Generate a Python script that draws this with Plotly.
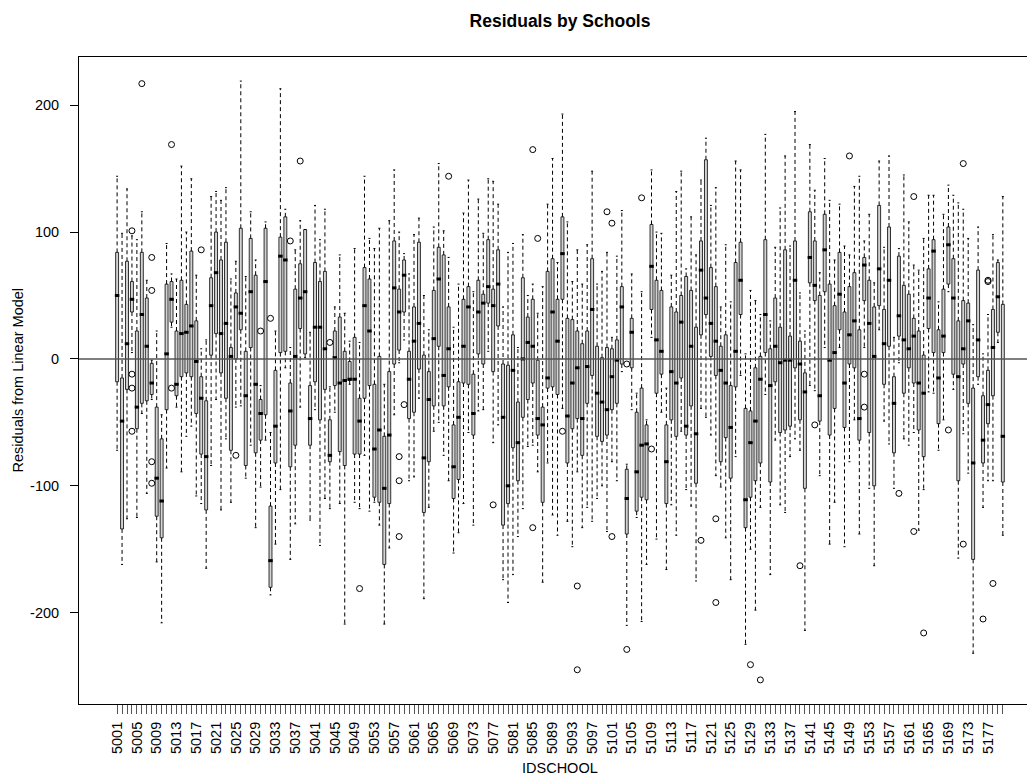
import plotly.graph_objects as go

# ---- data ----
FIRST_ID = 5001
SCHOOL_IDS = list(range(5001, 5181))

# upper whisker end, Q3, median, Q1, lower whisker end  (per school, in order)
WHISK_HI = [144, 99, 134, 97, 94, 116, 62, -1, 22, -44, 91, 67, 63, 152, 100, 142, 66, 8, 15, 128,
            132, 125, 135, 63, 77, 219, 65, 116, 78, -21, 108, -58, 22, 213, 118, 9, 86, 109, 102, 21,
            121, 94, 118, -22, 41, 82, 36, 14, 87, 13, 144, 95, 87, 103, -20, 109, 149, 100, 83, 67,
            98, 111, 50, 23, 104, 154, 101, 80, 25, 59, 115, 141, 53, 126, 99, 142, 140, 122, 41, 84,
            91, 9, 98, 50, 59, 36, 57, 122, 158, 76, 193, 108, 61, 86, 59, 90, 148, 59, 69, 84,
            17, 81, 117, -83, 67, -27, 53, -48, 149, 100, 99, -23, 66, 132, 148, 71, 112, 82, 141, 174,
            121, 135, 41, 90, 45, 156, 149, 4, 54, 46, 35, 177, 30, 88, 119, 160, 89, 195, 52, 22,
            169, 133, 68, 158, 125, 78, 122, 89, 82, 136, 144, 93, 114, 60, 156, 88, 160, 17, 87, 145,
            108, 74, 70, 95, 129, 129, 45, 114, 137, 129, 123, 118, 95, 27, 104, 4, 35, 98, 78, 128]
Q3 = [84, -15, 77, 61, 22, 84, 48, -3.5, -38, -63, 59, 61, 22, 62, 43, 85, 30, -14, -33, 64,
      100, 78, 92, 9, 52, 103, 6, 95, 66, -32, 103, -116, -9, 96, 112, -19, 55, 75, 102, -21,
      76, 61, 69, -48, 22, 33, 6, -2, 17, -31, 72, 63, -20, 2, -61, -10, 93, 55, 78, 6,
      41, 92, 3, -10, 54, 88, 82, 41, -52, -18, 47, 57, -12, 62, 51, 94, 55, 86, -4, -5,
      19, -34, 64, 33, 47, -1, -38, 69, 79, 47, 112, 32, 31, 22, 12, 22, 79, 10, 1, 9,
      8, 15, 57, -87, 32, -42, -23, -52, 106, 62, 54, -52, 41, 37, 50, 65, 54, 25, 93, 157,
      72, 57, 10, 19, -21, 76, 92, -39, -41, -7, 2, 94, 8, 48, 25, 86, 18, 93, 14, -11,
      116, 93, 50, 114, 59, 42, 84, 37, 57, 68, 23, 80, 62, 41, 121, 39, 104, -14, 81, 58,
      51, 32, 22, 3, 71, 94, 23, 55, 104, 79, 30, 46, 44, -23, 70, -29, -9, 39, 76, 43]
MEDIAN = [50, -49, 12, 47, -38, 35, 10, -19, -94, -112, 4, 47, -20, 20, 21, 26, -2, -31, -77, 42,
          68, 20, 28, 2, 41, 36, -29, 53, -20, -43, 61, -159, -53, 81, 78, -41, 2, 48, 53, -47,
          25, 25, 8, -76, 1, -19, -17, -16, -16, -49, 42, 22, -71, -56, -102, -60, 56, 37, 66, -16,
          14, 28, -78, -32, 16, 63, -13, 8, -85, -46, 10, 41, -43, 37, 44, 57, 42, 59, -46, -100,
          -9, -66, 0, 13, 10, -47, -52, -15, 37, 14, 83, -45, -19, -7, -47, -6, 39, -27, -34, -40,
          -14, -1, 41, -110, 21, -89, -68, -67, 73, 15, 6, -81, -10, -19, 29, -53, 10, -59, 70, 48,
          28, 14, -9, -19, -54, 6, 62, -111, -66, -49, -16, 35, -21, 10, -3, -1, -1, 62, -4, -26,
          80, 58, -29, 86, -1, 5, 51, -19, 19, 30, -47, 74, 28, 2, 71, 12, 62, -35, 34, 15,
          8, 18, -19, -27, 48, 85, -15, 18, 90, 48, -14, 8, 30, -82, 15, -64, -36, 9, 49, -61]
Q1 = [-18, -134, -24, 37, -55, -35, -33, -28, -124, -141, -40, 29, -29, -14, -11, -14, -43, -75, -119, 3,
      20, -11, -31, -72, 0, 23, -84, 9, -74, -64, -44, -180, -82, 5, 6, -85, -68, 24, 4, -68,
      -18, -48, -24, -81, -21, -73, -84, -17, -75, -75, -31, -21, -109, -113, -162, -114, -4, 7, 37, -47,
      -42, -8, -121, -81, -37, 10, -37, -22, -110, -95, -19, -20, -60, 4, -4, 44, -10, 26, -131, -114,
      -70, -96, -46, -32, -19, -60, -113, -23, -22, -28, 47, -82, -55, -47, -76, -35, -13, -61, -65, -60,
      -40, -35, -4, -138, -7, -120, -109, -111, 39, -27, -12, -114, -48, -61, -15, -60, -37, -98, 19, 35,
      2, -13, -81, -62, -94, -22, 35, -133, -109, -96, -82, 5, -97, -18, -58, -56, -53, -7, -48, -102,
      60, 46, -49, 53, -60, -39, 23, -54, -4, -7, -64, 46, -58, -100, 42, -20, 10, -74, 18, -27,
      -7, -19, -56, -77, 24, 5, -51, 5, 59, -12, -96, -4, -35, -158, -14, -82, -51, -29, 21, -97]
WHISK_LO = [-72, -162, -126, 5, -125, -43, -106, -32, -160, -208, -86, 25, -38, -89, -61, -53, -108, -114, -165, -84,
            -32, -119, -63, -113, -38, -37, -94, -68, -133, -101, -64, -186, -146, -103, -7, -158, -130, -38, 1, -127,
            -40, -147, -110, -118, -42, -114, -209, -20, -113, -118, -76, -120, -113, -131, -209, -149, -44, -3, 15, -96,
            -93, -31, -189, -117, -57, -50, -76, -96, -153, -137, -114, -58, -131, -41, -40, 6, -66, -52, -174, -192,
            -170, -140, -118, -69, -68, -89, -176, -82, -123, -139, -39, -128, -148, -89, -133, -117, -128, -110, -100, -136,
            -81, -96, -10, -210, -40, -125, -207, -162, 17, -142, -42, -166, -115, -139, -57, -103, -116, -175, -39, -46,
            -60, -92, -101, -141, -174, -77, -13, -225, -150, -198, -117, -28, -170, -64, -115, -121, -77, -63, -72, -214,
            -21, -25, -92, 9, -146, -113, 9, -148, -81, -48, -138, 9, -102, -163, 23, -49, -67, -102, -3, -63,
            -68, -58, -135, -103, -26, -27, -72, -48, 53, -24, -157, -59, -90, -232, -20, -117, -96, -96, 13, -139]

# outlying residuals (school id, value)
OUTLIER_IDS = [5004, 5004, 5004, 5004, 5006, 5008, 5008, 5008, 5008, 5012, 5012, 5018, 5025, 5030, 5032,
               5036, 5038, 5044, 5050, 5058, 5058, 5058, 5059, 5068, 5077, 5085, 5085, 5086, 5091, 5094,
               5094, 5100, 5101, 5101, 5104, 5104, 5107, 5109, 5119, 5122, 5122, 5129, 5131, 5139, 5142,
               5149, 5152, 5152, 5159, 5162, 5162, 5164, 5169, 5172, 5172, 5176, 5177, 5177, 5178]
OUTLIER_VALS = [101, -12, -23, -57, 217, 80, 54, -81, -98, 169, -23, 86, -76, 22, 32,
                93, 156, 13, -181, -77, -96, -140, -36, 144, -115, 165, -133, 95, -57, -179,
                -245, 116, 107, -140, -4, -229, 127, -71, -143, -126, -192, -241, -253, -163, -52,
                160, -12, -38, -106, 128, -136, -216, -56, 154, -146, -205, 62, 61, -177]

TICK_LABEL_STEP = 4
Y_TICKS = [-200, -100, 0, 100, 200]
Y_RANGE = [-272, 238]
X_RANGE = [FIRST_ID - 7.7, FIRST_ID + 185.5]
REFERENCE_LEVEL = 0

TITLE = "Residuals by Schools"
X_TITLE = "IDSCHOOL"
Y_TITLE = "Residuals from Linear Model"

FONT = "Liberation Sans, Arial, sans-serif"
BOX_FILL = "#D3D3D3"
HALF_BOX = 0.45
HALF_STAPLE = 0.2

# ---- build segments from the data ----
whisk_x, whisk_y = [], []
staple_x, staple_y = [], []
med_x, med_y = [], []
for sid, hi, q3, md, q1, lo in zip(SCHOOL_IDS, WHISK_HI, Q3, MEDIAN, Q1, WHISK_LO):
    whisk_x += [sid, sid, None, sid, sid, None]
    whisk_y += [q3, hi, None, q1, lo, None]
    staple_x += [sid - HALF_STAPLE, sid + HALF_STAPLE, None, sid - HALF_STAPLE, sid + HALF_STAPLE, None]
    staple_y += [hi, hi, None, lo, lo, None]
    med_x += [sid - HALF_BOX, sid + HALF_BOX, None]
    med_y += [md, md, None]

fig = go.Figure()

fig.add_trace(go.Scatter(x=whisk_x, y=whisk_y, mode="lines",
                         line=dict(color="black", width=1, dash="4px,3px"),
                         hoverinfo="skip", showlegend=False))
fig.add_trace(go.Scatter(x=staple_x, y=staple_y, mode="lines",
                         line=dict(color="black", width=1),
                         hoverinfo="skip", showlegend=False))
fig.add_trace(go.Box(x=SCHOOL_IDS, q1=Q1, median=MEDIAN, q3=Q3,
                     lowerfence=Q1, upperfence=Q3,
                     fillcolor=BOX_FILL, line=dict(color="black", width=0.8),
                     whiskerwidth=0, boxpoints=False, showlegend=False))
fig.add_trace(go.Scatter(x=med_x, y=med_y, mode="lines",
                         line=dict(color="black", width=3),
                         hoverinfo="skip", showlegend=False))
fig.add_trace(go.Scatter(x=OUTLIER_IDS, y=OUTLIER_VALS, mode="markers",
                         marker=dict(symbol="circle-open", size=6, color="black",
                                     line=dict(width=1, color="black")),
                         showlegend=False))

tick_text = [str(s) if (s - FIRST_ID) % TICK_LABEL_STEP == 0 else "" for s in SCHOOL_IDS]

# the page body adds an 8px offset, so the figure is sized/placed to compensate
OFF = 8
W, H = 1035 - OFF, 776 - OFF
ML, MT = 79 - OFF, 57 - OFF
PLOT_BOTTOM = 704 - OFF
MB = H - PLOT_BOTTOM
plot_w = W - ML
plot_h = H - MT - MB

fig.update_layout(
    width=W, height=H, autosize=False,
    margin=dict(l=ML, r=0, t=MT, b=MB, pad=0),
    paper_bgcolor="white", plot_bgcolor="white",
    font=dict(family=FONT, color="black"),
    boxgap=0.15,
    title=dict(text=TITLE, x=(560 - OFF) / W, xref="container", xanchor="center",
               y=1 - (21 - OFF) / H, yref="container", yanchor="middle",
               font=dict(size=17.5, family=FONT, weight="bold", color="black")),
    xaxis=dict(range=X_RANGE, tickmode="array", tickvals=SCHOOL_IDS, ticktext=tick_text,
               tickangle=-90, ticks="outside", ticklen=9, tickwidth=1, tickcolor="#555",
               tickfont=dict(size=14.5, family=FONT, color="black"),
               ticklabelstandoff=2,
               showline=True, linecolor="black", linewidth=1, mirror=True,
               showgrid=False, zeroline=False, automargin=False),
    yaxis=dict(range=Y_RANGE, tickmode="array", tickvals=Y_TICKS,
               ticktext=[str(v) for v in Y_TICKS],
               ticks="outside", ticklen=8, tickwidth=1, tickcolor="black",
               tickfont=dict(size=14.5, family=FONT, color="black"),
               ticklabelstandoff=8,
               showline=True, linecolor="black", linewidth=1, mirror=False,
               showgrid=False, zeroline=False, automargin=False),
    shapes=[dict(type="line", xref="paper", x0=0, x1=1, yref="y",
                 y0=REFERENCE_LEVEL, y1=REFERENCE_LEVEL,
                 line=dict(color="#555555", width=1.5), layer="above")],
    annotations=[
        dict(text=X_TITLE, xref="paper", yref="paper",
             x=(560 - OFF - ML) / plot_w, y=-(768 - OFF - PLOT_BOTTOM) / plot_h,
             xanchor="center", yanchor="middle", showarrow=False,
             font=dict(size=14.5, family=FONT, color="black")),
        dict(text=Y_TITLE, xref="paper", yref="paper",
             x=(17 - OFF - ML) / plot_w, y=0.5, textangle=-90,
             xanchor="center", yanchor="middle", showarrow=False,
             font=dict(size=14.5, family=FONT, color="black")),
    ],
)

fig.write_html("out.html")
